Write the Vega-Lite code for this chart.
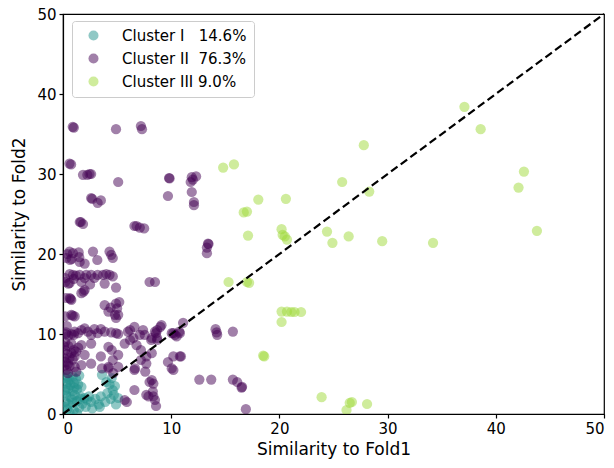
{
  "$schema": "https://vega.github.io/schema/vega-lite/v6.json",
  "width": 541,
  "height": 400,
  "autosize": {"type": "none"},
  "padding": {"left": 63, "top": 14, "right": 10, "bottom": 54},
  "background": "white",
  "config": {
    "font": "DejaVu Sans",
    "view": {"stroke": "black", "strokeWidth": 1.2},
    "axis": {
      "grid": false,
      "domainColor": "black",
      "domainWidth": 1.2,
      "tickColor": "black",
      "tickSize": 4,
      "tickWidth": 1.2,
      "labelColor": "black",
      "labelFont": "DejaVu Sans",
      "labelFontSize": 15,
      "labelPadding": 3,
      "titleColor": "black",
      "titleFont": "DejaVu Sans",
      "titleFontSize": 17,
      "titleFontWeight": "normal"
    }
  },
  "layer": [
    {
      "data": {
        "values": [
          {"x": 0.2, "y": 4.5, "cluster": "Cluster I"}, {"x": 0.4, "y": 4.8, "cluster": "Cluster I"}, {"x": 0.6, "y": 4.3, "cluster": "Cluster I"},
          {"x": 0.9, "y": 4.7, "cluster": "Cluster I"}, {"x": 1.2, "y": 4.4, "cluster": "Cluster I"}, {"x": 0.3, "y": 3.8, "cluster": "Cluster I"},
          {"x": 0.7, "y": 3.6, "cluster": "Cluster I"}, {"x": 1.0, "y": 3.9, "cluster": "Cluster I"}, {"x": 1.4, "y": 3.7, "cluster": "Cluster I"},
          {"x": 0.2, "y": 3.0, "cluster": "Cluster I"}, {"x": 0.5, "y": 3.2, "cluster": "Cluster I"}, {"x": 0.9, "y": 2.9, "cluster": "Cluster I"},
          {"x": 1.3, "y": 3.1, "cluster": "Cluster I"}, {"x": 1.7, "y": 3.4, "cluster": "Cluster I"}, {"x": 0.3, "y": 2.3, "cluster": "Cluster I"},
          {"x": 0.7, "y": 2.1, "cluster": "Cluster I"}, {"x": 1.1, "y": 2.4, "cluster": "Cluster I"}, {"x": 1.6, "y": 2.2, "cluster": "Cluster I"},
          {"x": 2.0, "y": 2.0, "cluster": "Cluster I"}, {"x": 0.2, "y": 1.5, "cluster": "Cluster I"}, {"x": 0.5, "y": 1.2, "cluster": "Cluster I"},
          {"x": 0.9, "y": 1.4, "cluster": "Cluster I"}, {"x": 1.3, "y": 1.6, "cluster": "Cluster I"}, {"x": 1.8, "y": 1.3, "cluster": "Cluster I"},
          {"x": 2.2, "y": 1.8, "cluster": "Cluster I"}, {"x": 2.6, "y": 1.5, "cluster": "Cluster I"}, {"x": 3.0, "y": 1.9, "cluster": "Cluster I"},
          {"x": 3.3, "y": 1.2, "cluster": "Cluster I"}, {"x": 0.4, "y": 0.6, "cluster": "Cluster I"}, {"x": 1.0, "y": 0.5, "cluster": "Cluster I"},
          {"x": 1.5, "y": 0.8, "cluster": "Cluster I"}, {"x": 2.1, "y": 0.9, "cluster": "Cluster I"}, {"x": 2.7, "y": 0.7, "cluster": "Cluster I"},
          {"x": 3.4, "y": 0.9, "cluster": "Cluster I"}, {"x": 3.9, "y": 1.5, "cluster": "Cluster I"}, {"x": 0.6, "y": 0.2, "cluster": "Cluster I"},
          {"x": 1.3, "y": 0.1, "cluster": "Cluster I"}, {"x": 4.4, "y": 1.9, "cluster": "Cluster I"}, {"x": 4.7, "y": 2.4, "cluster": "Cluster I"},
          {"x": 4.6, "y": 3.0, "cluster": "Cluster I"}, {"x": 4.8, "y": 3.5, "cluster": "Cluster I"}, {"x": 4.3, "y": 3.7, "cluster": "Cluster I"},
          {"x": 4.0, "y": 4.0, "cluster": "Cluster I"}, {"x": 4.9, "y": 1.2, "cluster": "Cluster I"}, {"x": 3.6, "y": 4.9, "cluster": "Cluster I"},
          {"x": 2.4, "y": 2.2, "cluster": "Cluster I"}, {"x": 3.5, "y": 2.2, "cluster": "Cluster I"}, {"x": 4.1, "y": 2.6, "cluster": "Cluster I"},
          {"x": 0.15, "y": 0.9, "cluster": "Cluster I"}, {"x": 0.8, "y": 1.8, "cluster": "Cluster I"}, {"x": 1.6, "y": 1.9, "cluster": "Cluster I"},
          {"x": 0.25, "y": 2.7, "cluster": "Cluster I"}, {"x": 1.05, "y": 3.3, "cluster": "Cluster I"}, {"x": 0.45, "y": 4.0, "cluster": "Cluster I"},
          {"x": 1.5, "y": 4.8, "cluster": "Cluster I"}, {"x": 5.1, "y": 2.0, "cluster": "Cluster I"}, {"x": 4.5, "y": 4.5, "cluster": "Cluster I"},

          {"x": 0.9, "y": 35.9, "cluster": "Cluster II"}, {"x": 1.0, "y": 35.8, "cluster": "Cluster II"}, {"x": 4.9, "y": 35.6, "cluster": "Cluster II"},
          {"x": 7.2, "y": 36.0, "cluster": "Cluster II"}, {"x": 7.3, "y": 35.6, "cluster": "Cluster II"}, {"x": 0.6, "y": 31.3, "cluster": "Cluster II"},
          {"x": 0.75, "y": 31.2, "cluster": "Cluster II"}, {"x": 1.85, "y": 29.9, "cluster": "Cluster II"}, {"x": 2.25, "y": 29.9, "cluster": "Cluster II"},
          {"x": 2.45, "y": 30.0, "cluster": "Cluster II"}, {"x": 2.6, "y": 30.0, "cluster": "Cluster II"}, {"x": 5.1, "y": 29.0, "cluster": "Cluster II"},
          {"x": 2.6, "y": 27.0, "cluster": "Cluster II"}, {"x": 2.7, "y": 26.9, "cluster": "Cluster II"}, {"x": 3.2, "y": 26.4, "cluster": "Cluster II"},
          {"x": 3.5, "y": 26.7, "cluster": "Cluster II"}, {"x": 1.55, "y": 24.0, "cluster": "Cluster II"}, {"x": 1.65, "y": 24.0, "cluster": "Cluster II"},
          {"x": 1.85, "y": 23.75, "cluster": "Cluster II"}, {"x": 6.6, "y": 23.5, "cluster": "Cluster II"}, {"x": 6.8, "y": 23.5, "cluster": "Cluster II"},
          {"x": 7.1, "y": 23.3, "cluster": "Cluster II"}, {"x": 7.5, "y": 23.2, "cluster": "Cluster II"}, {"x": 9.8, "y": 29.5, "cluster": "Cluster II"},
          {"x": 9.85, "y": 29.45, "cluster": "Cluster II"}, {"x": 11.9, "y": 29.6, "cluster": "Cluster II"}, {"x": 12.3, "y": 29.7, "cluster": "Cluster II"},
          {"x": 11.8, "y": 29.0, "cluster": "Cluster II"}, {"x": 12.0, "y": 29.3, "cluster": "Cluster II"}, {"x": 9.7, "y": 27.25, "cluster": "Cluster II"},
          {"x": 11.9, "y": 27.75, "cluster": "Cluster II"}, {"x": 12.1, "y": 26.5, "cluster": "Cluster II"}, {"x": 12.1, "y": 26.1, "cluster": "Cluster II"},
          {"x": 13.4, "y": 21.3, "cluster": "Cluster II"}, {"x": 13.45, "y": 21.25, "cluster": "Cluster II"}, {"x": 13.3, "y": 20.8, "cluster": "Cluster II"},
          {"x": 13.3, "y": 20.1, "cluster": "Cluster II"},

          {"x": 0.6, "y": 20.3, "cluster": "Cluster II"}, {"x": 0.92, "y": 20.1, "cluster": "Cluster II"}, {"x": 0.8, "y": 19.4, "cluster": "Cluster II"},
          {"x": 1.45, "y": 20.2, "cluster": "Cluster II"}, {"x": 1.54, "y": 19.0, "cluster": "Cluster II"}, {"x": 2.0, "y": 18.8, "cluster": "Cluster II"},
          {"x": 2.77, "y": 20.3, "cluster": "Cluster II"}, {"x": 3.17, "y": 19.25, "cluster": "Cluster II"}, {"x": 4.46, "y": 19.9, "cluster": "Cluster II"},
          {"x": 4.3, "y": 20.3, "cluster": "Cluster II"}, {"x": 4.6, "y": 19.5, "cluster": "Cluster II"}, {"x": 1.5, "y": 19.6, "cluster": "Cluster II"},
          {"x": 0.65, "y": 19.25, "cluster": "Cluster II"}, {"x": 0.3, "y": 19.5, "cluster": "Cluster II"}, {"x": 0.4, "y": 20.0, "cluster": "Cluster II"},

          {"x": 0.62, "y": 17.5, "cluster": "Cluster II"}, {"x": 0.92, "y": 17.4, "cluster": "Cluster II"}, {"x": 1.2, "y": 17.3, "cluster": "Cluster II"},
          {"x": 1.54, "y": 17.4, "cluster": "Cluster II"}, {"x": 2.15, "y": 17.4, "cluster": "Cluster II"}, {"x": 2.0, "y": 17.0, "cluster": "Cluster II"},
          {"x": 2.6, "y": 17.4, "cluster": "Cluster II"}, {"x": 3.2, "y": 17.4, "cluster": "Cluster II"}, {"x": 3.7, "y": 17.4, "cluster": "Cluster II"},
          {"x": 4.3, "y": 17.4, "cluster": "Cluster II"}, {"x": 4.6, "y": 17.2, "cluster": "Cluster II"}, {"x": 2.9, "y": 17.0, "cluster": "Cluster II"},
          {"x": 4.0, "y": 17.5, "cluster": "Cluster II"}, {"x": 1.0, "y": 16.9, "cluster": "Cluster II"}, {"x": 0.2, "y": 17.0, "cluster": "Cluster II"},
          {"x": 0.62, "y": 16.4, "cluster": "Cluster II"}, {"x": 1.7, "y": 16.5, "cluster": "Cluster II"}, {"x": 2.5, "y": 16.2, "cluster": "Cluster II"},
          {"x": 3.85, "y": 16.3, "cluster": "Cluster II"}, {"x": 4.9, "y": 15.8, "cluster": "Cluster II"}, {"x": 0.5, "y": 16.3, "cluster": "Cluster II"},
          {"x": 0.2, "y": 16.5, "cluster": "Cluster II"}, {"x": 1.7, "y": 15.1, "cluster": "Cluster II"}, {"x": 2.0, "y": 15.5, "cluster": "Cluster II"},
          {"x": 1.9, "y": 15.3, "cluster": "Cluster II"}, {"x": 0.62, "y": 14.5, "cluster": "Cluster II"}, {"x": 0.77, "y": 14.25, "cluster": "Cluster II"},
          {"x": 0.7, "y": 14.4, "cluster": "Cluster II"}, {"x": 0.3, "y": 14.5, "cluster": "Cluster II"},
          {"x": 3.85, "y": 13.6, "cluster": "Cluster II"}, {"x": 4.9, "y": 13.8, "cluster": "Cluster II"}, {"x": 5.2, "y": 14.0, "cluster": "Cluster II"},
          {"x": 4.2, "y": 12.8, "cluster": "Cluster II"}, {"x": 4.8, "y": 12.4, "cluster": "Cluster II"}, {"x": 4.9, "y": 12.0, "cluster": "Cluster II"},
          {"x": 5.1, "y": 12.4, "cluster": "Cluster II"}, {"x": 5.0, "y": 13.2, "cluster": "Cluster II"}, {"x": 4.4, "y": 13.3, "cluster": "Cluster II"},
          {"x": 0.77, "y": 12.4, "cluster": "Cluster II"}, {"x": 1.08, "y": 12.2, "cluster": "Cluster II"}, {"x": 0.9, "y": 12.3, "cluster": "Cluster II"},
          {"x": 0.2, "y": 12.2, "cluster": "Cluster II"}, {"x": 8.0, "y": 16.5, "cluster": "Cluster II"}, {"x": 8.5, "y": 16.5, "cluster": "Cluster II"},

          {"x": 1.08, "y": 10.3, "cluster": "Cluster II"}, {"x": 1.39, "y": 10.1, "cluster": "Cluster II"}, {"x": 1.7, "y": 10.5, "cluster": "Cluster II"},
          {"x": 2.0, "y": 10.7, "cluster": "Cluster II"}, {"x": 2.3, "y": 10.3, "cluster": "Cluster II"}, {"x": 2.9, "y": 10.6, "cluster": "Cluster II"},
          {"x": 3.2, "y": 10.1, "cluster": "Cluster II"}, {"x": 3.85, "y": 10.3, "cluster": "Cluster II"}, {"x": 4.46, "y": 10.2, "cluster": "Cluster II"},
          {"x": 4.9, "y": 10.1, "cluster": "Cluster II"}, {"x": 5.1, "y": 10.0, "cluster": "Cluster II"}, {"x": 6.0, "y": 10.3, "cluster": "Cluster II"},
          {"x": 6.2, "y": 10.5, "cluster": "Cluster II"}, {"x": 6.5, "y": 9.5, "cluster": "Cluster II"}, {"x": 6.6, "y": 10.9, "cluster": "Cluster II"},
          {"x": 7.1, "y": 9.9, "cluster": "Cluster II"}, {"x": 7.4, "y": 10.5, "cluster": "Cluster II"}, {"x": 7.55, "y": 9.9, "cluster": "Cluster II"},
          {"x": 8.15, "y": 9.25, "cluster": "Cluster II"}, {"x": 8.5, "y": 10.3, "cluster": "Cluster II"}, {"x": 8.6, "y": 10.1, "cluster": "Cluster II"},
          {"x": 0.8, "y": 10.0, "cluster": "Cluster II"}, {"x": 1.0, "y": 9.9, "cluster": "Cluster II"}, {"x": 0.5, "y": 9.8, "cluster": "Cluster II"},
          {"x": 0.3, "y": 10.2, "cluster": "Cluster II"}, {"x": 2.6, "y": 9.9, "cluster": "Cluster II"}, {"x": 3.5, "y": 10.6, "cluster": "Cluster II"},
          {"x": 0.25, "y": 10.0, "cluster": "Cluster II"}, {"x": 0.35, "y": 11.0, "cluster": "Cluster II"},

          {"x": 9.1, "y": 11.1, "cluster": "Cluster II"}, {"x": 8.7, "y": 10.5, "cluster": "Cluster II"}, {"x": 9.0, "y": 10.9, "cluster": "Cluster II"},
          {"x": 11.1, "y": 11.4, "cluster": "Cluster II"}, {"x": 10.05, "y": 10.1, "cluster": "Cluster II"}, {"x": 10.35, "y": 9.9, "cluster": "Cluster II"},
          {"x": 10.75, "y": 10.3, "cluster": "Cluster II"}, {"x": 8.7, "y": 9.5, "cluster": "Cluster II"}, {"x": 8.2, "y": 9.5, "cluster": "Cluster II"},
          {"x": 14.1, "y": 10.6, "cluster": "Cluster II"}, {"x": 14.2, "y": 10.2, "cluster": "Cluster II"}, {"x": 14.25, "y": 9.9, "cluster": "Cluster II"},
          {"x": 15.7, "y": 10.3, "cluster": "Cluster II"}, {"x": 10.2, "y": 10.1, "cluster": "Cluster II"}, {"x": 10.5, "y": 9.7, "cluster": "Cluster II"},
          {"x": 10.8, "y": 10.1, "cluster": "Cluster II"}, {"x": 8.7, "y": 9.25, "cluster": "Cluster II"},
          {"x": 9.7, "y": 6.5, "cluster": "Cluster II"}, {"x": 10.2, "y": 7.2, "cluster": "Cluster II"}, {"x": 10.8, "y": 7.2, "cluster": "Cluster II"},
          {"x": 10.9, "y": 7.2, "cluster": "Cluster II"}, {"x": 10.05, "y": 5.7, "cluster": "Cluster II"}, {"x": 10.2, "y": 5.5, "cluster": "Cluster II"},
          {"x": 8.2, "y": 4.25, "cluster": "Cluster II"}, {"x": 8.35, "y": 3.8, "cluster": "Cluster II"}, {"x": 12.6, "y": 4.3, "cluster": "Cluster II"},
          {"x": 13.7, "y": 4.3, "cluster": "Cluster II"}, {"x": 15.7, "y": 4.3, "cluster": "Cluster II"}, {"x": 16.1, "y": 4.0, "cluster": "Cluster II"},
          {"x": 16.5, "y": 3.3, "cluster": "Cluster II"}, {"x": 16.55, "y": 3.4, "cluster": "Cluster II"}, {"x": 8.35, "y": 2.2, "cluster": "Cluster II"},
          {"x": 8.5, "y": 1.75, "cluster": "Cluster II"}, {"x": 8.6, "y": 1.0, "cluster": "Cluster II"}, {"x": 16.9, "y": 0.6, "cluster": "Cluster II"},

          {"x": 0.77, "y": 8.8, "cluster": "Cluster II"}, {"x": 1.7, "y": 8.6, "cluster": "Cluster II"}, {"x": 2.6, "y": 8.8, "cluster": "Cluster II"},
          {"x": 4.2, "y": 8.4, "cluster": "Cluster II"}, {"x": 4.5, "y": 8.0, "cluster": "Cluster II"}, {"x": 5.7, "y": 8.8, "cluster": "Cluster II"},
          {"x": 6.2, "y": 9.25, "cluster": "Cluster II"}, {"x": 6.8, "y": 8.6, "cluster": "Cluster II"}, {"x": 7.2, "y": 8.0, "cluster": "Cluster II"},
          {"x": 7.7, "y": 7.2, "cluster": "Cluster II"}, {"x": 8.2, "y": 7.6, "cluster": "Cluster II"}, {"x": 0.77, "y": 7.6, "cluster": "Cluster II"},
          {"x": 1.08, "y": 7.2, "cluster": "Cluster II"}, {"x": 2.0, "y": 7.4, "cluster": "Cluster II"}, {"x": 3.5, "y": 7.2, "cluster": "Cluster II"},
          {"x": 4.6, "y": 6.75, "cluster": "Cluster II"}, {"x": 5.1, "y": 7.4, "cluster": "Cluster II"}, {"x": 7.2, "y": 6.75, "cluster": "Cluster II"},
          {"x": 7.7, "y": 6.3, "cluster": "Cluster II"}, {"x": 0.46, "y": 6.3, "cluster": "Cluster II"}, {"x": 1.08, "y": 5.9, "cluster": "Cluster II"},
          {"x": 1.7, "y": 6.1, "cluster": "Cluster II"}, {"x": 2.6, "y": 6.3, "cluster": "Cluster II"}, {"x": 4.2, "y": 5.7, "cluster": "Cluster II"},
          {"x": 5.1, "y": 5.9, "cluster": "Cluster II"}, {"x": 6.6, "y": 5.5, "cluster": "Cluster II"}, {"x": 8.0, "y": 4.0, "cluster": "Cluster II"},
          {"x": 0.46, "y": 5.1, "cluster": "Cluster II"}, {"x": 1.23, "y": 5.3, "cluster": "Cluster II"}, {"x": 8.3, "y": 2.8, "cluster": "Cluster II"},
          {"x": 7.9, "y": 2.2, "cluster": "Cluster II"}, {"x": 5.7, "y": 1.75, "cluster": "Cluster II"}, {"x": 6.6, "y": 3.0, "cluster": "Cluster II"},
          {"x": 5.9, "y": 1.5, "cluster": "Cluster II"}, {"x": 7.7, "y": 2.4, "cluster": "Cluster II"}, {"x": 7.6, "y": 5.3, "cluster": "Cluster II"},
          {"x": 6.65, "y": 5.7, "cluster": "Cluster II"}, {"x": 3.6, "y": 5.7, "cluster": "Cluster II"}, {"x": 4.2, "y": 5.9, "cluster": "Cluster II"},
          {"x": 4.65, "y": 5.1, "cluster": "Cluster II"},
          {"x": 0.1, "y": 7.0, "cluster": "Cluster II"}, {"x": 0.2, "y": 8.0, "cluster": "Cluster II"}, {"x": 0.3, "y": 6.5, "cluster": "Cluster II"},
          {"x": 0.4, "y": 7.5, "cluster": "Cluster II"}, {"x": 0.5, "y": 8.5, "cluster": "Cluster II"}, {"x": 0.2, "y": 9.0, "cluster": "Cluster II"},
          {"x": 0.6, "y": 7.0, "cluster": "Cluster II"}, {"x": 0.3, "y": 5.5, "cluster": "Cluster II"}, {"x": 0.15, "y": 6.0, "cluster": "Cluster II"},
          {"x": 0.9, "y": 6.8, "cluster": "Cluster II"}, {"x": 1.2, "y": 7.8, "cluster": "Cluster II"}, {"x": 1.4, "y": 8.3, "cluster": "Cluster II"},
          {"x": 0.1, "y": 8.5, "cluster": "Cluster II"}, {"x": 0.6, "y": 6.0, "cluster": "Cluster II"}, {"x": 1.0, "y": 8.0, "cluster": "Cluster II"},

          {"x": 37.1, "y": 38.4, "cluster": "Cluster III"}, {"x": 38.6, "y": 35.6, "cluster": "Cluster III"}, {"x": 27.8, "y": 33.6, "cluster": "Cluster III"},
          {"x": 25.8, "y": 29.0, "cluster": "Cluster III"}, {"x": 28.3, "y": 27.8, "cluster": "Cluster III"}, {"x": 42.6, "y": 30.3, "cluster": "Cluster III"},
          {"x": 42.1, "y": 28.3, "cluster": "Cluster III"}, {"x": 43.8, "y": 22.9, "cluster": "Cluster III"}, {"x": 24.4, "y": 22.8, "cluster": "Cluster III"},
          {"x": 24.9, "y": 21.4, "cluster": "Cluster III"}, {"x": 26.4, "y": 22.2, "cluster": "Cluster III"}, {"x": 29.5, "y": 21.6, "cluster": "Cluster III"},
          {"x": 34.2, "y": 21.4, "cluster": "Cluster III"}, {"x": 26.5, "y": 1.4, "cluster": "Cluster III"}, {"x": 26.7, "y": 1.5, "cluster": "Cluster III"},
          {"x": 28.1, "y": 1.25, "cluster": "Cluster III"}, {"x": 26.2, "y": 0.5, "cluster": "Cluster III"}, {"x": 23.9, "y": 2.1, "cluster": "Cluster III"},
          {"x": 14.8, "y": 30.8, "cluster": "Cluster III"}, {"x": 15.8, "y": 31.2, "cluster": "Cluster III"}, {"x": 18.05, "y": 26.8, "cluster": "Cluster III"},
          {"x": 20.6, "y": 26.9, "cluster": "Cluster III"}, {"x": 16.7, "y": 25.2, "cluster": "Cluster III"}, {"x": 17.0, "y": 25.3, "cluster": "Cluster III"},
          {"x": 17.1, "y": 22.3, "cluster": "Cluster III"}, {"x": 20.2, "y": 23.1, "cluster": "Cluster III"}, {"x": 20.3, "y": 22.4, "cluster": "Cluster III"},
          {"x": 20.5, "y": 22.2, "cluster": "Cluster III"}, {"x": 20.7, "y": 21.8, "cluster": "Cluster III"}, {"x": 15.3, "y": 16.5, "cluster": "Cluster III"},
          {"x": 17.0, "y": 16.5, "cluster": "Cluster III"}, {"x": 17.2, "y": 16.4, "cluster": "Cluster III"}, {"x": 20.2, "y": 12.8, "cluster": "Cluster III"},
          {"x": 20.7, "y": 12.8, "cluster": "Cluster III"}, {"x": 21.1, "y": 12.75, "cluster": "Cluster III"}, {"x": 21.4, "y": 12.75, "cluster": "Cluster III"},
          {"x": 22.0, "y": 12.75, "cluster": "Cluster III"}, {"x": 20.2, "y": 11.5, "cluster": "Cluster III"}, {"x": 18.5, "y": 7.3, "cluster": "Cluster III"},
          {"x": 18.6, "y": 7.2, "cluster": "Cluster III"}
        ]
      },
      "mark": {"type": "point", "filled": true, "size": 105, "opacity": 0.5, "clip": true},
      "encoding": {
        "x": {
          "field": "x", "type": "quantitative",
          "scale": {"domain": [0, 50], "nice": false},
          "axis": {"values": [0, 10, 20, 30, 40, 50], "title": "Similarity to Fold1", "titlePadding": 5}
        },
        "y": {
          "field": "y", "type": "quantitative",
          "scale": {"domain": [0, 50], "nice": false},
          "axis": {"values": [0, 10, 20, 30, 40, 50], "title": "Similarity to Fold2", "titlePadding": 8}
        },
        "color": {
          "field": "cluster", "type": "nominal",
          "scale": {"domain": ["Cluster I", "Cluster II", "Cluster III"], "range": ["#21918c", "#440154", "#a0da39"]},
          "legend": {
            "title": null,
            "orient": "none",
            "legendX": 9,
            "legendY": 7,
            "padding": 7,
            "fillColor": "white",
            "strokeColor": "#cccccc",
            "cornerRadius": 3,
            "symbolType": "circle",
            "symbolSize": 100,
            "symbolOpacity": 0.5,
            "symbolOffset": 7,
            "labelFont": "DejaVu Sans",
            "labelFontSize": 15,
            "labelColor": "black",
            "labelOffset": 21,
            "rowPadding": 7,
            "labelExpr": "datum.label == 'Cluster I' ? 'Cluster I\u00a0\u00a0\u00a014.6%' : datum.label == 'Cluster II' ? 'Cluster II\u00a0\u00a076.3%' : 'Cluster III\u00a09.0%'"
          }
        }
      }
    },
    {
      "data": {"values": [{"x": 0, "y": 0}, {"x": 50, "y": 50}]},
      "mark": {"type": "line", "color": "black", "strokeWidth": 2.2, "strokeDash": [8, 4]},
      "encoding": {
        "x": {"field": "x", "type": "quantitative"},
        "y": {"field": "y", "type": "quantitative"}
      }
    }
  ]
}
